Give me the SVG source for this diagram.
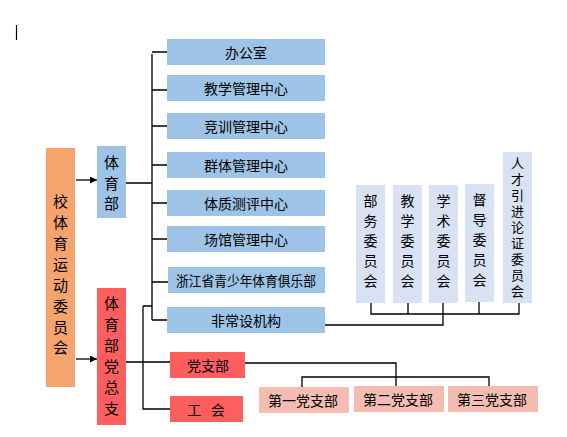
<svg xmlns="http://www.w3.org/2000/svg" width="567" height="437" viewBox="0 0 567 437">
<defs>
<style>
text{font-family:"Noto Sans CJK SC","Noto Sans CJK JP",sans-serif;fill:#000;text-anchor:middle;dominant-baseline:central}
.b{fill:#9DC3E6}.o{fill:#F4A46C}.r{fill:#FF5E5E}.p{fill:#F4BDB2}.l{fill:#D9E2F3}
.t{font-size:14px}.v{font-size:15px}.c{font-size:14px}.s{font-size:13px;writing-mode:vertical-rl;letter-spacing:3px}
.ln{fill:none;stroke:#000;stroke-width:1.3}
</style>
<marker id="ar" viewBox="0 0 10 10" refX="10" refY="5" markerWidth="7" markerHeight="7" orient="auto" markerUnits="userSpaceOnUse"><path d="M0,0L10,5L0,10z" fill="#000"/></marker>
</defs>
<line x1="16.5" y1="25" x2="16.5" y2="40" stroke="#000" stroke-width="1.2"/>
<g id="connectors">
<line class="ln" x1="76" y1="180" x2="97" y2="180" marker-end="url(#ar)"/>
<line class="ln" x1="76" y1="359" x2="97" y2="359" marker-end="url(#ar)"/>
<path class="ln" d="M126,183H152M152,54V320M152,52H167M152,90H167M152,126H167M152,165H167M152,203H167M152,239H167M152,282H168M152,320H167"/>
<path class="ln" d="M126,362H170M143,306H152M143,306V409H170"/>
<path class="ln" d="M245,363H396V386M302,387V377H489V386"/>
<path class="ln" d="M325,325H443V303M371,303V314H519V303M408,303V314M479,302V314"/>
</g>
<g id="xiao"><rect class="o" x="46" y="148" width="29" height="239"/><text class="v" x="60.5"><tspan x="60.5" y="200">校</tspan><tspan x="60.5" y="221">体</tspan><tspan x="60.5" y="242">育</tspan><tspan x="60.5" y="263">运</tspan><tspan x="60.5" y="284">动</tspan><tspan x="60.5" y="305">委</tspan><tspan x="60.5" y="326">员</tspan><tspan x="60.5" y="346">会</tspan></text></g>
<g id="tiyubu"><rect class="b" x="97" y="146" width="29" height="72"/><text class="v"><tspan x="111.5" y="161">体</tspan><tspan x="111.5" y="182">育</tspan><tspan x="111.5" y="202">部</tspan></text></g>
<g id="dangzongzhi"><rect class="r" x="97" y="288" width="29" height="137"/><text class="v"><tspan x="111.5" y="302">体</tspan><tspan x="111.5" y="323">育</tspan><tspan x="111.5" y="344">部</tspan><tspan x="111.5" y="365">党</tspan><tspan x="111.5" y="386">总</tspan><tspan x="111.5" y="407">支</tspan></text></g>
<g id="bgs"><rect class="b" x="167" y="39" width="158" height="26"/><text class="t" x="246" y="52">办公室</text></g>
<g id="jxgl"><rect class="b" x="167" y="75" width="158" height="26"/><text class="t" x="246" y="88">教学管理中心</text></g>
<g id="jxun"><rect class="b" x="167" y="113" width="158" height="26"/><text class="t" x="246" y="126">竞训管理中心</text></g>
<g id="qt"><rect class="b" x="167" y="152" width="158" height="26"/><text class="t" x="246" y="165">群体管理中心</text></g>
<g id="tz"><rect class="b" x="167" y="190" width="158" height="26"/><text class="t" x="246" y="203">体质测评中心</text></g>
<g id="cg"><rect class="b" x="167" y="226" width="158" height="26"/><text class="t" x="246" y="239">场馆管理中心</text></g>
<g id="jlb"><rect class="b" x="168" y="267" width="157" height="26"/><text class="t" x="246" y="280" textLength="140" lengthAdjust="spacingAndGlyphs">浙江省青少年体育俱乐部</text></g>
<g id="fcs"><rect class="b" x="167" y="307" width="158" height="26"/><text class="t" x="246" y="320">非常设机构</text></g>
<g id="dzb"><rect class="r" x="170" y="352" width="75" height="26"/><text class="t" x="208" y="365">党支部</text></g>
<g id="gh"><rect class="r" x="170" y="396" width="73" height="26"/><text class="t" x="206" y="409" xml:space="preserve">工   会</text></g>
<g id="d1"><rect class="p" x="259" y="387" width="90" height="26"/><text class="t" x="303" y="400">第一党支部</text></g>
<g id="d2"><rect class="p" x="354" y="386" width="90" height="26"/><text class="t" x="398" y="399">第二党支部</text></g>
<g id="d3"><rect class="p" x="448" y="386" width="90" height="26"/><text class="t" x="492" y="399">第三党支部</text></g>
<g id="bw"><rect class="l" x="356" y="185" width="29" height="118"/><text class="c"><tspan x="370.5" y="200">部</tspan><tspan x="370.5" y="220">务</tspan><tspan x="370.5" y="240">委</tspan><tspan x="370.5" y="260">员</tspan><tspan x="370.5" y="280">会</tspan></text></g>
<g id="jx"><rect class="l" x="393" y="185" width="29" height="118"/><text class="c"><tspan x="407.5" y="200">教</tspan><tspan x="407.5" y="220">学</tspan><tspan x="407.5" y="240">委</tspan><tspan x="407.5" y="260">员</tspan><tspan x="407.5" y="280">会</tspan></text></g>
<g id="xs"><rect class="l" x="429" y="185" width="29" height="118"/><text class="c"><tspan x="443.5" y="200">学</tspan><tspan x="443.5" y="220">术</tspan><tspan x="443.5" y="240">委</tspan><tspan x="443.5" y="260">员</tspan><tspan x="443.5" y="280">会</tspan></text></g>
<g id="dd"><rect class="l" x="465" y="184" width="29" height="118"/><text class="c"><tspan x="479.5" y="199">督</tspan><tspan x="479.5" y="219">导</tspan><tspan x="479.5" y="239">委</tspan><tspan x="479.5" y="259">员</tspan><tspan x="479.5" y="279">会</tspan></text></g>
<g id="rc"><rect class="l" x="503" y="152" width="29" height="151"/><text class="s" x="517.5" y="229">人才引进论证委员会</text></g>
</svg>
